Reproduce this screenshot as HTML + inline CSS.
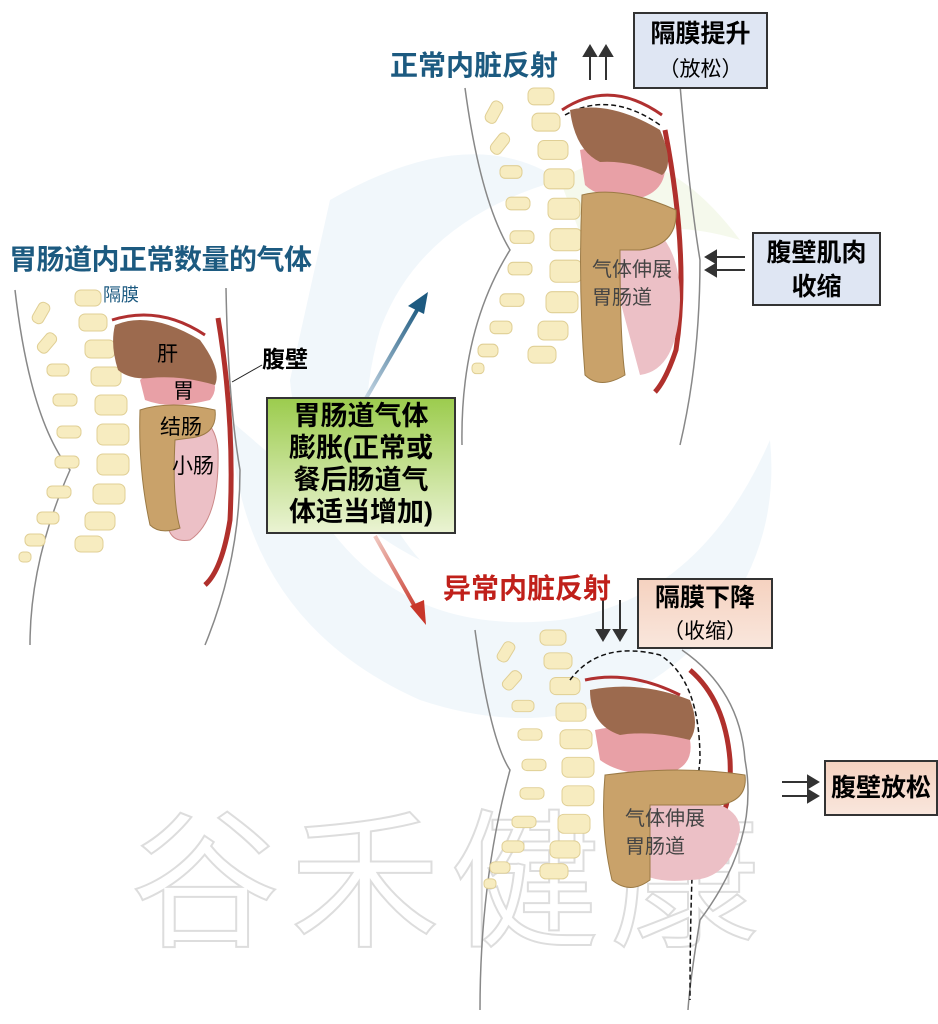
<!DOCTYPE html>
<html><head><meta charset="utf-8"><style>
body{margin:0;background:#fff;}
.w{position:relative;width:938px;height:1024px;overflow:hidden;font-family:"Liberation Sans","Noto Sans CJK SC",sans-serif;}
.t{position:absolute;font-weight:bold;white-space:nowrap;}
.box{position:absolute;border:2px solid #333;text-align:center;font-weight:bold;box-sizing:border-box;white-space:nowrap;}
</style></head><body><div class="w">
<svg width="938" height="1024" style="position:absolute;left:0;top:0">
<defs>
<linearGradient id="bl" x1="0" y1="1" x2="1" y2="0"><stop offset="0" stop-color="#c9d9e6"/><stop offset="1" stop-color="#1d5a80"/></linearGradient>
<linearGradient id="rd" x1="0" y1="0" x2="1" y2="1"><stop offset="0" stop-color="#f0c8c0"/><stop offset="1" stop-color="#c8362a"/></linearGradient>
<g id="spine" fill="#f7ecc0" stroke="#e0cf95" stroke-width="1">
<rect x="0" y="0" width="26" height="16" rx="6"/><rect x="4" y="24" width="28" height="17" rx="6"/><rect x="10" y="50" width="30" height="18" rx="6"/><rect x="16" y="77" width="30" height="19" rx="6"/><rect x="20" y="105" width="32" height="20" rx="6"/><rect x="22" y="134" width="32" height="21" rx="6"/><rect x="22" y="164" width="32" height="21" rx="6"/><rect x="18" y="194" width="32" height="20" rx="6"/><rect x="10" y="222" width="30" height="18" rx="6"/><rect x="0" y="246" width="28" height="16" rx="6"/>
<rect x="-40" y="12" width="12" height="22" rx="5" transform="rotate(30 -34 23)"/><rect x="-34" y="42" width="12" height="22" rx="5" transform="rotate(40 -28 53)"/><rect x="-28" y="74" width="22" height="12" rx="5"/><rect x="-22" y="104" width="24" height="12" rx="5"/><rect x="-18" y="136" width="24" height="12" rx="5"/><rect x="-20" y="166" width="24" height="12" rx="5"/><rect x="-28" y="196" width="24" height="12" rx="5"/><rect x="-38" y="222" width="22" height="12" rx="5"/><rect x="-50" y="244" width="20" height="12" rx="5"/><rect x="-56" y="262" width="12" height="10" rx="4"/>
</g>
</defs>
<path d="M330 200 Q470 120 560 180 Q420 220 380 330 Q340 470 420 560 Q300 500 290 380 Z" fill="#f1f7fb"/>
<path d="M560 180 Q650 120 740 240 Q640 210 590 260 Z" fill="#f5f9ec"/>
<path d="M230 420 Q240 620 420 700 Q600 760 720 620 Q780 540 770 440 Q700 600 560 620 Q380 640 300 480 Z" fill="#f1f7fb"/>
<text x="130" y="935" font-size="150" fill="none" stroke="#ddd" stroke-width="2" font-family="Noto Sans CJK SC" letter-spacing="10">谷禾健康</text>
<path d="M15 290 Q30 420 70 470 Q30 560 30 645" fill="none" stroke="#888" stroke-width="1.5"/>
<path d="M226 288 Q228 400 240 470 Q240 560 205 645" fill="none" stroke="#888" stroke-width="1.5"/>
<use href="#spine" transform="translate(75 290)"/>
<path d="M112 320 Q160 305 205 335" fill="none" stroke="#b03030" stroke-width="3"/>
<path d="M218 318 Q235 420 230 520 Q222 570 205 585" fill="none" stroke="#b0302c" stroke-width="5"/>
<path d="M232 382 L262 365" stroke="#222" stroke-width="1"/>
<path d="M140 380 Q160 360 205 370 Q222 385 210 400 Q170 410 145 400 Z" fill="#e8a0a6"/>
<path d="M115 325 Q150 310 200 340 Q222 370 215 385 Q180 375 150 378 Q130 380 118 370 Q110 345 115 325 Z" fill="#9c6a4e"/>
<path d="M170 410 Q215 410 218 450 Q220 520 190 540 Q160 545 170 500 Z" fill="#ecc0c6" stroke="#c88" />
<path d="M140 410 Q170 400 215 410 Q218 435 190 438 L175 440 Q172 500 180 528 Q160 535 150 525 Q138 470 140 410 Z" fill="#c9a26a" stroke="#9b7a45"/>
<line x1="365" y1="400" x2="420" y2="305" stroke="url(#bl)" stroke-width="4"/>
<polygon points="428,292 408,306 424,314" fill="#1d5a80"/>
<line x1="375" y1="536" x2="418" y2="612" stroke="url(#rd)" stroke-width="4"/>
<polygon points="426,625 410,606 424,600" fill="#c8362a"/>
<path d="M465 88 Q480 200 510 250 Q460 330 462 445" fill="none" stroke="#888" stroke-width="1.5"/>
<path d="M680 85 Q690 200 700 260 Q700 360 680 445" fill="none" stroke="#888" stroke-width="1.5"/>
<use href="#spine" transform="translate(528 88) scale(1,1.05)"/>
<path d="M562 110 Q610 78 662 115" fill="none" stroke="#b03030" stroke-width="3"/>
<path d="M565 115 Q610 90 660 125" fill="none" stroke="#111" stroke-width="1.5" stroke-dasharray="5,3"/>
<path d="M665 130 Q690 260 676 350 Q666 380 655 392" fill="none" stroke="#b0302c" stroke-width="5"/>
<path d="M580 150 Q620 140 665 160 Q668 190 640 198 Q600 200 585 185 Z" fill="#e8a0a6"/>
<path d="M570 110 Q610 100 660 130 Q675 165 662 175 Q630 160 600 162 Q575 150 570 110 Z" fill="#9c6a4e"/>
<path d="M615 215 Q680 220 680 300 Q678 370 640 375 L620 300 Z" fill="#ecc0c6"/>
<path d="M582 195 Q620 185 676 210 Q678 245 640 250 L620 250 Q620 340 625 375 Q600 390 585 375 Q578 290 582 195 Z" fill="#c9a26a" stroke="#9b7a45"/>
<path d="M475 630 Q490 740 510 770 Q480 880 480 1010" fill="none" stroke="#888" stroke-width="1.5"/>
<path d="M682 650 Q740 690 745 760 Q760 840 700 920 Q690 980 688 1010" fill="none" stroke="#888" stroke-width="1.5"/>
<use href="#spine" transform="translate(540 630) scale(1,0.95)"/>
<path d="M585 680 Q630 670 680 695" fill="none" stroke="#b03030" stroke-width="3"/>
<path d="M570 680 Q600 640 660 655 Q700 680 700 760 Q690 850 690 1000" fill="none" stroke="#111" stroke-width="1.5" stroke-dasharray="5,3"/>
<path d="M690 670 Q725 700 730 760 Q732 800 720 820" fill="none" stroke="#b0302c" stroke-width="5"/>
<path d="M595 730 Q640 720 690 740 Q695 770 660 775 Q620 775 600 760 Z" fill="#e8a0a6"/>
<path d="M590 690 Q640 680 690 700 Q700 725 690 740 Q650 730 620 735 Q590 725 590 690 Z" fill="#9c6a4e"/>
<path d="M630 800 Q740 790 740 830 Q730 880 690 880 Q640 885 630 860 Z" fill="#ecc0c6"/>
<path d="M605 775 Q680 765 745 775 Q748 800 720 805 L650 805 L650 880 Q630 895 612 880 Q600 830 605 775 Z" fill="#c9a26a" stroke="#9b7a45"/>
<g stroke="#333" stroke-width="2" fill="#333">
<line x1="590" y1="80" x2="590" y2="52"/><polygon points="584,56 596,56 590,46"/>
<line x1="606" y1="80" x2="606" y2="52"/><polygon points="600,56 612,56 606,46"/>
<line x1="745" y1="257" x2="712" y2="257"/><polygon points="716,251 716,263 706,257"/>
<line x1="745" y1="270" x2="712" y2="270"/><polygon points="716,264 716,276 706,270"/>
<line x1="603" y1="600" x2="603" y2="634"/><polygon points="597,630 609,630 603,640"/>
<line x1="620" y1="600" x2="620" y2="634"/><polygon points="614,630 626,630 620,640"/>
<line x1="782" y1="782" x2="812" y2="782"/><polygon points="808,776 808,788 818,782"/>
<line x1="782" y1="796" x2="812" y2="796"/><polygon points="808,790 808,802 818,796"/>
</g>
</svg>
<div class="t" style="left:9px;top:238px;font-size:28px;color:#1c5a80;letter-spacing:-0.5px">胃肠道内正常数量的气体</div>
<div class="t" style="left:103px;top:281px;font-size:18px;color:#1c5a80;font-weight:normal">隔膜</div>
<div class="t" style="left:157px;top:338px;font-size:21px;font-weight:normal">肝</div>
<div class="t" style="left:173px;top:375px;font-size:21px;font-weight:normal">胃</div>
<div class="t" style="left:160px;top:411px;font-size:21px;font-weight:normal">结肠</div>
<div class="t" style="left:172px;top:450px;font-size:21px;font-weight:normal">小肠</div>
<div class="t" style="left:262px;top:340px;font-size:23px">腹壁</div>
<div class="box" style="left:266px;top:397px;width:190px;height:137px;background:linear-gradient(#9ccc4e,#eaf3d2);font-size:27px;line-height:32px;padding-top:1px">胃肠道气体<br>膨胀(正常或<br>餐后肠道气<br>体适当增加)</div>
<div class="t" style="left:390px;top:44px;font-size:28px;color:#1c5a80">正常内脏反射</div>
<div class="box" style="left:633px;top:12px;width:135px;height:77px;background:#dfe6f3;font-size:25px;line-height:34px;padding-top:3px">隔膜提升<br><span style="font-weight:normal;font-size:21px">（放松）</span></div>
<div class="box" style="left:752px;top:232px;width:129px;height:74px;background:#dfe6f3;font-size:25px;line-height:34px;padding-top:2px">腹壁肌肉<br>收缩</div>
<div class="t" style="left:592px;top:256px;font-size:20px;color:#444;font-weight:normal;line-height:28px">气体伸展<br>胃肠道</div>
<div class="t" style="left:443px;top:567px;font-size:28px;color:#c0201a">异常内脏反射</div>
<div class="box" style="left:637px;top:578px;width:136px;height:71px;background:linear-gradient(#f5d2c0,#f9e6dc);font-size:25px;line-height:32px;padding-top:2px">隔膜下降<br><span style="font-weight:normal;font-size:21px">（收缩）</span></div>
<div class="box" style="left:824px;top:760px;width:114px;height:56px;background:linear-gradient(#f5d2c0,#f9e6dc);font-size:25px;line-height:52px">腹壁放松</div>
<div class="t" style="left:625px;top:805px;font-size:20px;color:#444;font-weight:normal;line-height:28px">气体伸展<br>胃肠道</div>
</div></body></html>
